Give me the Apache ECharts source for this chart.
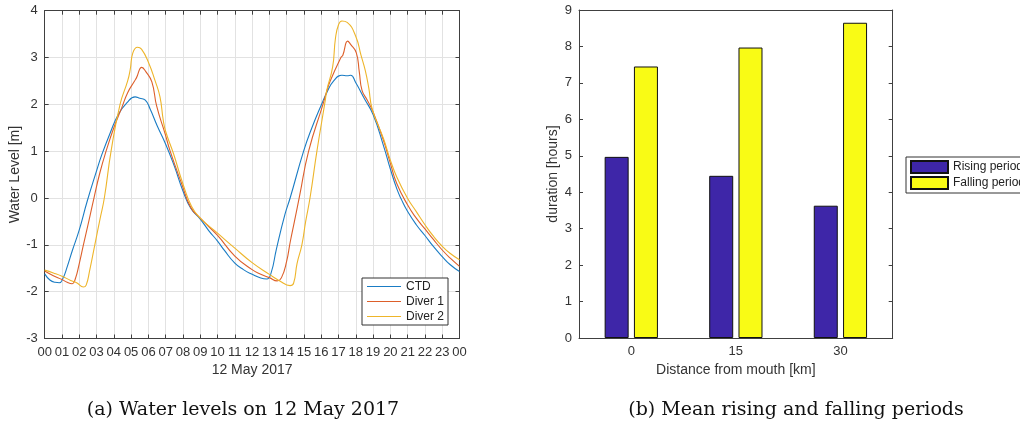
<!DOCTYPE html>
<html>
<head>
<meta charset="utf-8">
<script src="https://cdn.jsdelivr.net/npm/echarts@6/dist/echarts.min.js"></script>
<style>
  html, body { margin: 0; padding: 0; background: #fff; }
  #chart { width: 1020px; height: 427px; }
</style>
</head>
<body>
<div id="chart"></div>
<script>
// water level [m] vs hour of 12 May 2017
var ctdLevel = [
  [0, -1.62], [0.3, -1.75], [0.6, -1.80], [0.85, -1.81], [1.05, -1.72], [1.3, -1.47],
  [1.6, -1.12], [2.0, -0.68], [2.45, -0.08], [3.0, 0.58], [3.3, 0.92], [3.8, 1.40],
  [4.25, 1.78], [4.75, 2.03], [5.23, 2.16], [5.5, 2.13], [5.82, 2.09], [6.1, 1.90],
  [6.5, 1.55], [7.0, 1.15], [7.5, 0.68], [8.0, 0.15], [8.45, -0.22], [9.0, -0.45],
  [9.5, -0.70], [10.0, -0.92], [10.4, -1.12], [11.0, -1.39], [11.5, -1.53], [12.0, -1.63],
  [12.5, -1.71], [12.85, -1.73], [13.1, -1.60], [13.4, -1.10], [13.9, -0.35], [14.2, 0.0],
  [14.98, 1.0], [15.46, 1.5], [16.04, 2.02], [16.32, 2.25], [16.72, 2.5], [17.2, 2.62],
  [17.5, 2.61], [17.7, 2.62], [18.0, 2.46], [18.5, 2.12], [19.0, 1.78], [19.6, 1.12],
  [20.0, 0.62], [20.37, 0.20], [20.65, -0.04], [21.0, -0.29], [21.5, -0.57], [22.0, -0.80],
  [22.5, -1.04], [23.0, -1.25], [23.45, -1.42], [24, -1.57]
];
var diver1Level = [
  [0, -1.56], [0.5, -1.66], [1.0, -1.74], [1.3, -1.80], [1.58, -1.83], [1.76, -1.74],
  [2.0, -1.40], [2.24, -1.0], [2.55, -0.5], [2.85, 0.0], [3.2, 0.55], [3.55, 1.0],
  [4.0, 1.50], [4.46, 1.93], [4.8, 2.25], [5.2, 2.50], [5.3, 2.56], [5.62, 2.79],
  [5.85, 2.70], [6.2, 2.48], [6.48, 1.96], [6.96, 1.38], [7.26, 1.0], [7.93, 0.3],
  [8.45, -0.20], [9.0, -0.43], [10.0, -0.80], [11.0, -1.24], [12.0, -1.53], [12.5, -1.63],
  [13.0, -1.70], [13.45, -1.77], [13.7, -1.70], [14.0, -1.35], [14.2, -0.95], [14.45, -0.5],
  [14.75, 0.05], [15.27, 1.0], [16.1, 2.0], [16.32, 2.28], [16.52, 2.5], [17.14, 3.0],
  [17.25, 3.05], [17.53, 3.35], [17.7, 3.28], [18.03, 3.10], [18.2, 2.7], [18.36, 2.3],
  [18.65, 2.1], [19.0, 1.84], [19.6, 1.23], [20.0, 0.74], [20.37, 0.31], [21.0, -0.15],
  [21.5, -0.43], [22.0, -0.66], [22.5, -0.89], [23.0, -1.11], [23.45, -1.28], [24, -1.46]
];
var diver2Level = [
  [0, -1.54], [0.5, -1.60], [1.0, -1.67], [1.5, -1.76], [1.85, -1.81], [2.24, -1.90],
  [2.4, -1.86], [2.6, -1.55], [2.9, -1.0], [3.2, -0.45], [3.45, 0.0], [3.84, 1.0],
  [4.36, 2.0], [4.8, 2.5], [4.95, 2.75], [5.1, 3.1], [5.37, 3.22], [5.6, 3.18],
  [6.0, 2.9], [6.39, 2.5], [6.67, 2.16], [6.86, 1.66], [7.0, 1.42], [7.45, 0.95],
  [8.0, 0.3], [8.5, -0.18], [9.0, -0.43], [10.0, -0.75], [11.0, -1.07], [12.0, -1.38],
  [13.0, -1.63], [13.6, -1.77], [14.2, -1.87], [14.4, -1.82], [14.6, -1.4], [14.88, -1.0],
  [15.1, -0.5], [15.35, 0.0], [15.75, 1.0], [16.24, 2.1], [16.32, 2.3], [16.66, 2.8],
  [16.82, 3.4], [17.0, 3.7], [17.2, 3.78], [17.5, 3.75], [18.0, 3.45], [18.3, 3.05],
  [18.55, 2.72], [18.75, 2.35], [18.95, 1.9], [19.6, 1.27], [20.0, 0.81], [20.37, 0.45],
  [21.0, -0.01], [21.5, -0.29], [22.0, -0.57], [22.5, -0.82], [23.0, -1.03], [23.45, -1.18],
  [24, -1.32]
];

// mean rising / falling durations [hours]
var distances = ['0', '15', '30'];
var risingHours = [4.97, 4.45, 3.63];
var fallingHours = [7.45, 7.97, 8.65];

var axisCol = '#404040';
var tickFont = { color: '#333', fontSize: 13, fontFamily: 'Liberation Sans' };
var nameFont = { color: '#333', fontSize: 14, fontFamily: 'Liberation Sans' };

function hourLabel(v) {
  var h = Math.round(v) % 24;
  return (h < 10 ? '0' : '') + h;
}

function levelLine(name, data, color) {
  return {
    name: name, type: 'line', xAxisIndex: 0, yAxisIndex: 0, data: data,
    showSymbol: false, symbol: 'none', smooth: 0.5,
    itemStyle: { color: color }, lineStyle: { color: color, width: 1.1 }
  };
}

var myChart = echarts.init(document.getElementById('chart'));
var option = {
  animation: false,
  backgroundColor: '#fff',
  grid: [
    { left: 44.7, right: 560.5, top: 10.7, bottom: 88.5 },
    { left: 579, right: 127.3, top: 10, bottom: 89 }
  ],
  legend: [
    {
      data: ['CTD', 'Diver 1', 'Diver 2'],
      orient: 'vertical', left: 362, top: 278,
      padding: [2, 4, 2, 5], itemGap: 2,
      icon: 'rect', itemWidth: 34, itemHeight: 1,
      backgroundColor: '#fff', borderColor: '#333', borderWidth: 1,
      textStyle: { color: '#222', fontSize: 12, fontFamily: 'Liberation Sans', lineHeight: 13 }
    },
    {
      data: ['Rising period', 'Falling period'],
      orient: 'vertical', left: 906, top: 157,
      padding: [3, 5, 3, 4], itemGap: 2,
      icon: 'rect', itemWidth: 37, itemHeight: 12,
      backgroundColor: '#fff', borderColor: '#333', borderWidth: 1,
      textStyle: { color: '#222', fontSize: 12, fontFamily: 'Liberation Sans', lineHeight: 13 }
    }
  ],
  graphic: [
    {
      type: 'text', x: 243, y: 410,
      style: { text: '(a) Water levels on 12 May 2017', font: '19px "DejaVu Serif"', fill: '#111', align: 'center', verticalAlign: 'middle' }
    },
    {
      type: 'text', x: 796, y: 410,
      style: { text: '(b) Mean rising and falling periods', font: '19px "DejaVu Serif"', fill: '#111', align: 'center', verticalAlign: 'middle' }
    }
  ],
  xAxis: [
    {
      type: 'value', gridIndex: 0, min: 0, max: 24, interval: 1,
      name: '12 May 2017', nameLocation: 'middle', nameGap: 25, nameTextStyle: nameFont,
      axisLine: { onZero: false, lineStyle: { color: axisCol } },
      axisTick: { inside: true, length: 4, lineStyle: { color: axisCol } },
      axisLabel: Object.assign({ margin: 7, formatter: hourLabel }, tickFont),
      splitLine: { show: true, lineStyle: { color: '#e2e2e2' } }
    },
    {
      type: 'value', gridIndex: 0, min: 0, max: 24, interval: 1, position: 'top',
      axisLine: { onZero: false, lineStyle: { color: axisCol } },
      axisTick: { inside: true, length: 4, lineStyle: { color: axisCol } },
      axisLabel: { show: false }, splitLine: { show: false }
    },
    {
      type: 'category', gridIndex: 1, data: distances,
      name: 'Distance from mouth [km]', nameLocation: 'middle', nameGap: 24, nameTextStyle: nameFont,
      axisLine: { onZero: false, lineStyle: { color: axisCol } },
      axisTick: { inside: true, length: 4, alignWithLabel: true, lineStyle: { color: axisCol } },
      axisLabel: Object.assign({ margin: 7 }, tickFont)
    },
    {
      type: 'category', gridIndex: 1, data: distances, position: 'top',
      axisLine: { onZero: false, lineStyle: { color: axisCol } },
      axisTick: { inside: true, length: 4, alignWithLabel: true, lineStyle: { color: axisCol } },
      axisLabel: { show: false }
    }
  ],
  yAxis: [
    {
      type: 'value', gridIndex: 0, min: -3, max: 4, interval: 1,
      name: 'Water Level [m]', nameLocation: 'middle', nameGap: 23, nameTextStyle: nameFont,
      axisLine: { show: true, onZero: false, lineStyle: { color: axisCol } },
      axisTick: { show: true, inside: true, length: 4, lineStyle: { color: axisCol } },
      axisLabel: Object.assign({ margin: 7 }, tickFont),
      splitLine: { show: true, lineStyle: { color: '#e2e2e2' } }
    },
    {
      type: 'value', gridIndex: 0, min: -3, max: 4, interval: 1, position: 'right',
      axisLine: { show: true, onZero: false, lineStyle: { color: axisCol } },
      axisTick: { show: true, inside: true, length: 4, lineStyle: { color: axisCol } },
      axisLabel: { show: false }, splitLine: { show: false }
    },
    {
      type: 'value', gridIndex: 1, min: 0, max: 9, interval: 1,
      name: 'duration [hours]', nameLocation: 'middle', nameGap: 19, nameTextStyle: nameFont,
      axisLine: { show: true, lineStyle: { color: axisCol } },
      axisTick: { show: true, inside: true, length: 4, lineStyle: { color: axisCol } },
      axisLabel: Object.assign({ margin: 7 }, tickFont),
      splitLine: { show: false }
    },
    {
      type: 'value', gridIndex: 1, min: 0, max: 9, interval: 1, position: 'right',
      axisLine: { show: true, lineStyle: { color: axisCol } },
      axisTick: { show: true, inside: true, length: 4, lineStyle: { color: axisCol } },
      axisLabel: { show: false }, splitLine: { show: false }
    }
  ],
  series: [
    levelLine('CTD', ctdLevel, '#1a7cc4'),
    levelLine('Diver 1', diver1Level, '#dd5f2a'),
    levelLine('Diver 2', diver2Level, '#eeb52a'),
    {
      name: 'Rising period', type: 'bar', xAxisIndex: 2, yAxisIndex: 2, data: risingHours,
      barWidth: 24, barGap: '22%',
      itemStyle: { color: '#3E26A8', borderColor: '#111', borderWidth: 1 }
    },
    {
      name: 'Falling period', type: 'bar', xAxisIndex: 2, yAxisIndex: 2, data: fallingHours,
      barWidth: 24, barGap: '22%',
      itemStyle: { color: '#F9FB15', borderColor: '#111', borderWidth: 1 }
    }
  ]
};
myChart.setOption(option);
</script>
</body>
</html>
